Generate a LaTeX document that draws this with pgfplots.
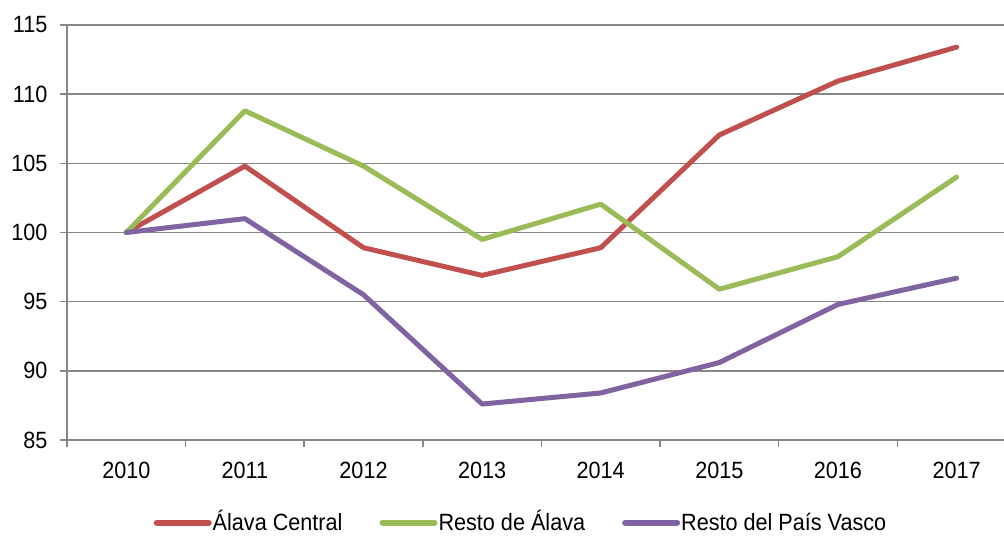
\documentclass[border=0pt]{standalone}
\usepackage{pgfplots}
\pgfplotsset{compat=1.18}
\usepackage{fontspec}
\setmainfont{Liberation Sans}[FakeStretch=0.92]
\definecolor{cred}{HTML}{C0504D}
\definecolor{cgreen}{HTML}{9BBB59}
\definecolor{cpurple}{HTML}{8064A2}
\definecolor{cgrid}{HTML}{868686}
\begin{document}
\begin{tikzpicture}[x=1pt,y=1pt]
\begin{axis}[
  at={(0pt,0pt)}, anchor=south west,
  scale only axis, width=937pt, height=415pt,
  xmin=-0.5, xmax=7.4, ymin=85, ymax=115,
  ytick={85,90,...,115},
  xtick={0,...,7},
  xticklabels={2010,2011,2012,2013,2014,2015,2016,2017},
  minor xtick={-0.5,0.5,...,6.5},
  axis x line*=bottom, axis y line*=left,
  axis line style={cgrid, line width=1.5pt, -},
  tick align=outside,
  major tick length=7pt, minor tick length=7pt,
  major x tick style={draw=none},
  minor x tick style={cgrid, line width=1.5pt},
  major y tick style={cgrid, line width=1.5pt},
  ymajorgrids, major grid style={cgrid, line width=1.5pt},
  /pgf/number format/assume math mode=true,
  tick label style={font=\fontsize{23.5}{27}\selectfont, text=black},
  yticklabel style={xshift=-9pt},
  xticklabel style={yshift=-12pt},
  legend style={at={(0.484,-0.199)}, anchor=center, draw=none, fill=none,
    font=\fontsize{23.5}{27}\selectfont, legend columns=-1,
    /tikz/every even column/.append style={column sep=36pt},
    nodes={inner sep=1pt, text height=17pt, text depth=1pt}},
  legend image code/.code={\draw[#1, line width=6pt, line cap=round] (0pt,0pt) -- (52pt,0pt);},
  clip=false,
]
\addplot[cred, line width=5pt, line join=round, line cap=round] coordinates {
 (0,100) (1,104.8) (2,98.9) (3,96.9) (4,98.9) (5,107.05) (6,110.95) (7,113.4)};
\addlegendentry{Álava Central}
\addplot[cgreen, line width=5pt, line join=round, line cap=round] coordinates {
 (0,100) (1,108.8) (2,104.8) (3,99.5) (4,102.05) (5,95.9) (6,98.25) (7,104.0)};
\addlegendentry{Resto de Álava}
\addplot[cpurple, line width=5pt, line join=round, line cap=round] coordinates {
 (0,100) (1,101.0) (2,95.5) (3,87.6) (4,88.4) (5,90.6) (6,94.8) (7,96.7)};
\addlegendentry{Resto del País Vasco}
\end{axis}
\pgfresetboundingbox
\useasboundingbox (-67pt,-96pt) rectangle (937pt,440pt);
\end{tikzpicture}
\end{document}
